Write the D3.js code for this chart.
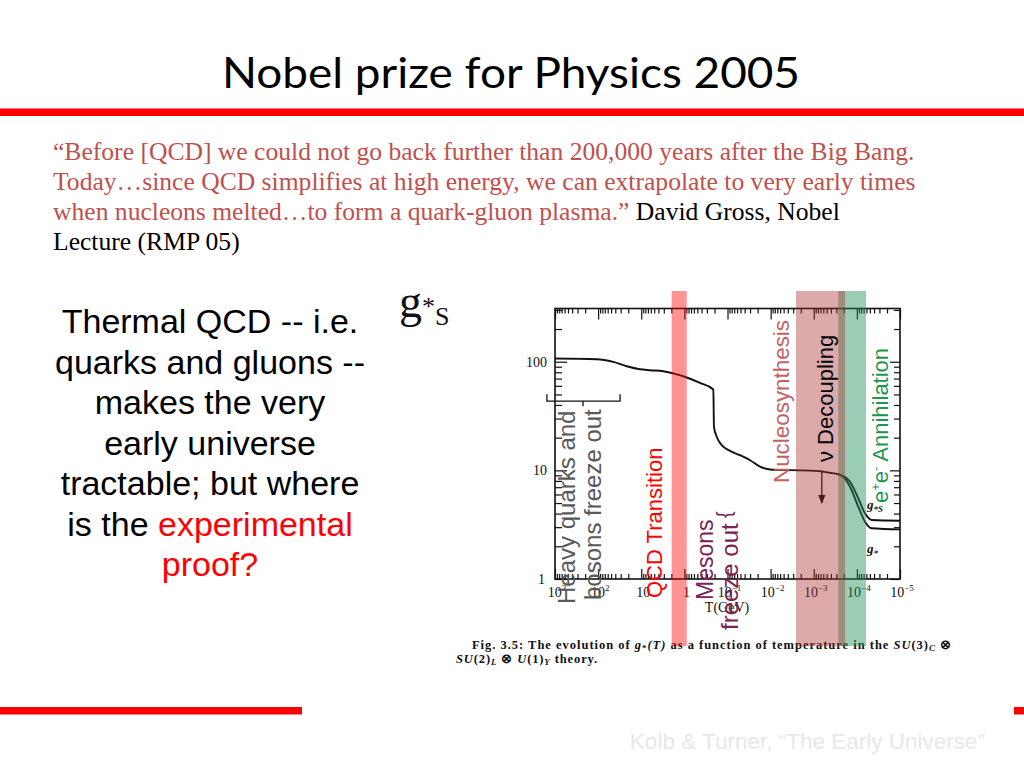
<!DOCTYPE html>
<html>
<head>
<meta charset="utf-8">
<script src="https://cdn.jsdelivr.net/npm/d3@7"></script>
<style>
  body { margin: 0; background: #fff; }
  svg { display: block; }
  .serif { font-family: "Liberation Serif", "Times New Roman", serif; }
  .sans { font-family: "Liberation Sans", Arial, sans-serif; }
</style>
</head>
<body>
<div class="container"></div>
<script>
var tempGeV = [1000, 108, 44.5, 21.7, 10.7, 6.27, 3.08, 1.81, 0.88, 0.435, 0.213, 0.206, 0.178,
               0.136, 0.0875, 0.0513, 0.030, 0.0176, 0.0103, 0.00356, 0.000855, 0.00042, 0.000274,
               0.000188, 0.000144, 0.0000927, 0.0000649, 0.0000453, 0.00001];
var gStarS  = [107, 105.5, 99.6, 90.9, 85.3, 83.6, 81.8, 78, 71.6, 63.8, 55.5, 25.1, 20.4,
               17.1, 15.1, 13.8, 12.4, 10.8, 10.2, 10.05, 9.9, 9.5, 9.24,
               8.67, 7.85, 5.52, 4.02, 3.49, 3.44];
// g* splits away from g*s below ~0.3 MeV
var tempLow = [0.000274, 0.000188, 0.000144, 0.0000927, 0.0000649, 0.0000453, 0.00001];
var gStar   = [9.24, 8.4, 7.06, 4.62, 3.37, 2.93, 2.86];

// shaded temperature bands (GeV)
var bandNames = ["QCD", "Nucleosynthesis", "Annihilation"];
var bandHighT = [1.97, 0.00258, 0.00027];
var bandLowT  = [0.88, 0.000188, 0.0000614];

var xTickExp = [3, 2, 1, 0, -1, -2, -3, -4, -5];
var yTickVals = [1, 10, 100];

var quoteLines = [
  "\u201CBefore [QCD] we could not go back further than 200,000 years after the Big Bang.",
  "Today\u2026since QCD simplifies at high energy, we can extrapolate to very early times",
  "when nucleons melted\u2026to form a quark-gluon plasma.\u201D"
];
var leftLines = ["Thermal QCD -- i.e.", "quarks and gluons --", "makes the very",
                 "early universe", "tractable; but where", "is the ", "proof?"];

var svg = d3.select(".container").append("svg")
    .attr("width", 1024)
    .attr("height", 768);

// slide furniture
svg.append("rect").attr("x", 0).attr("y", 108.5).attr("width", 1024).attr("height", 7.5).attr("fill", "#ff0000");
svg.append("rect").attr("x", 0).attr("y", 707).attr("width", 302).attr("height", 7.5).attr("fill", "#ff0000");
svg.append("rect").attr("x", 1014).attr("y", 707).attr("width", 10).attr("height", 7.5).attr("fill", "#ff0000");

svg.append("text")
    .attr("x", 511).attr("y", 88)
    .attr("text-anchor", "middle")
    .attr("textLength", 578).attr("lengthAdjust", "spacingAndGlyphs")
    .style("font-family", "Lato, 'Open Sans', sans-serif")
    .style("font-size", "42px")
    .text("Nobel prize for Physics 2005");

var quote = svg.append("g").attr("class", "serif").style("font-size", "25.6px");
quoteLines.forEach(function (line, i) {
    quote.append("text").attr("x", 53).attr("y", 160 + i * 30).attr("fill", "#c0504d").text(line);
});
quote.select("text:nth-child(3)").append("tspan").attr("fill", "#000").text("  David Gross, Nobel");
quote.append("text").attr("x", 53).attr("y", 250).attr("fill", "#000").text("Lecture (RMP 05)");

var left = svg.append("g").attr("class", "sans").style("font-size", "34px");
leftLines.forEach(function (line, i) {
    var t = left.append("text").attr("x", 210).attr("y", 333 + i * 40.5)
        .attr("text-anchor", "middle")
        .attr("fill", i == 6 ? "#ff0000" : "#000")
        .text(line);
    if (i == 5) t.append("tspan").attr("fill", "#ff0000").text("experimental");
});

svg.append("text").attr("class", "sans")
    .attr("x", 985).attr("y", 749).attr("text-anchor", "end")
    .style("font-size", "22.5px").attr("fill", "#e8e8e8")
    .text("Kolb & Turner, \u201CThe Early Universe\u201D");

// big g*S label
var gs = svg.append("text").attr("class", "serif").attr("x", 399).attr("y", 317).attr("fill", "#111");
gs.append("tspan").style("font-size", "46px").text("g");
gs.append("tspan").style("font-size", "26px").attr("dy", -2).text("*");
gs.append("tspan").style("font-size", "26px").attr("dy", 10).text("S");

// ---- the figure ----
var x = d3.scaleLog().domain([1e3, 1e-5]).range([555, 900]);
var y = d3.scaleLog().domain([1, Math.pow(10, 2.49)]).range([579, 308.5]);

function isDecade(v) {
    var l = Math.log10(v);
    return Math.abs(l - Math.round(l)) < 1e-6;
}
var xTicks = x.ticks(), yTicks = y.ticks();
var xMajor = xTicks.filter(isDecade), xMinor = xTicks.filter(function (v) { return !isDecade(v); });
var yMajor = yTicks.filter(isDecade), yMinor = yTicks.filter(function (v) { return !isDecade(v); });

var fig = svg.append("g");

function tickAxis(axis, pos, vals, size) {
    fig.append("g")
        .attr("transform", pos)
        .call(axis.tickValues(vals).tickSize(size).tickSizeOuter(0).tickFormat(""))
        .call(function (g) { g.select(".domain").remove(); })
        .selectAll("line").attr("stroke", "#111").attr("stroke-width", 1.2);
}
tickAxis(d3.axisBottom(x), "translate(0,579)", xMinor, -5);
tickAxis(d3.axisBottom(x), "translate(0,579)", xMajor, -10);
tickAxis(d3.axisTop(x), "translate(0,308.5)", xMinor, -5);
tickAxis(d3.axisTop(x), "translate(0,308.5)", xMajor, -11);
tickAxis(d3.axisLeft(y), "translate(555,0)", yMinor, -7);
tickAxis(d3.axisLeft(y), "translate(555,0)", yMajor, -12);
tickAxis(d3.axisRight(y), "translate(900,0)", yMinor, -6);
tickAxis(d3.axisRight(y), "translate(900,0)", yMajor, -10);

fig.append("rect")
    .attr("x", x(1e3)).attr("y", y.range()[1])
    .attr("width", x(1e-5) - x(1e3)).attr("height", y.range()[0] - y.range()[1])
    .attr("fill", "none").attr("stroke", "#111").attr("stroke-width", 1.6);

// tick labels
var xLab = fig.append("g").attr("class", "serif").style("font-size", "14px").attr("fill", "#111");
xTickExp.forEach(function (e) {
    var t = xLab.append("text").attr("x", x(Math.pow(10, e)) + 2).attr("y", 597).attr("text-anchor", "middle");
    if (e == 0) { t.text("1"); return; }
    t.append("tspan").text("10");
    if (e != 1) t.append("tspan").attr("dy", -6).style("font-size", "9px").text(String(e).replace("-", "\u2212"));
});
xLab.append("text").attr("x", 727).attr("y", 612).attr("text-anchor", "middle").text("T(GeV)");

fig.append("g").attr("class", "serif").style("font-size", "14px").attr("fill", "#111")
    .selectAll("text").data(yTickVals).enter().append("text")
    .attr("x", function (d) { return d == 1 ? 545 : 547; })
    .attr("y", function (d) { return y(d); })
    .attr("dy", "0.35em")
    .attr("text-anchor", "end")
    .text(function (d) { return d; });

// curves
var line = d3.line()
    .x(function (d) { return x(d[0]); })
    .y(function (d) { return y(d[1]); })
    .curve(d3.curveMonotoneX);

fig.append("path")
    .attr("d", line(d3.zip(tempGeV, gStarS)))
    .attr("fill", "none").attr("stroke", "#111").attr("stroke-width", 1.9);
fig.append("path")
    .attr("d", line(d3.zip(tempLow, gStar)))
    .attr("fill", "none").attr("stroke", "#111").attr("stroke-width", 1.9);

// curve labels
var lab = fig.append("g").attr("class", "serif").style("font-size", "13px")
    .style("font-weight", "bold").style("font-style", "italic").attr("fill", "#111");
var l1 = lab.append("text").attr("x", x(5.8e-5)).attr("y", y(4.4));
l1.append("tspan").text("g");
l1.append("tspan").attr("dy", 3).style("font-size", "9px").text("*S");
var l2 = lab.append("text").attr("x", x(5.8e-5)).attr("y", y(1.73));
l2.append("tspan").text("g");
l2.append("tspan").attr("dy", 3).style("font-size", "9px").text("*");

// heavy-quark bracket
var by = y(43.3);
fig.append("path")
    .attr("d", "M" + x(1540) + "," + (by - 7) + "V" + by + "H" + x(31) + "V" + (by - 7) +
               "M" + x(224) + "," + by + "v5")
    .attr("fill", "none").attr("stroke", "#111").attr("stroke-width", 1.3);

// neutrino decoupling arrow
svg.append("defs").append("marker")
    .attr("id", "head").attr("viewBox", "0 0 10 10").attr("refX", 9).attr("refY", 5)
    .attr("markerWidth", 7).attr("markerHeight", 9).attr("orient", "auto")
    .append("path").attr("d", "M0,1L10,5L0,9Z").attr("fill", "#111");
fig.append("line")
    .attr("x1", x(6.5e-4)).attr("x2", x(6.5e-4))
    .attr("y1", y(10)).attr("y2", y(5))
    .attr("stroke", "#111").attr("stroke-width", 1.3)
    .attr("marker-end", "url(#head)");

// caption
var cap = fig.append("g").attr("class", "serif").style("font-size", "12.5px")
    .style("font-weight", "bold").attr("fill", "#111");
var c1 = cap.append("text").attr("x", 472).attr("y", 649);
c1.append("tspan").text("Fig. 3.5:  The evolution of ");
c1.append("tspan").style("font-style", "italic").text("g");
c1.append("tspan").attr("dy", 2).style("font-size", "9px").text("*");
c1.append("tspan").attr("dy", -2).style("font-style", "italic").text("(T)");
c1.append("tspan").text(" as a function of temperature in the ");
c1.append("tspan").style("font-style", "italic").text("SU");
c1.append("tspan").text("(3)");
c1.append("tspan").attr("dy", 2).style("font-size", "9px").style("font-style", "italic").text("C");
c1.append("tspan").attr("dy", -2).text(" \u2297");
var c2 = cap.append("text").attr("x", 456).attr("y", 663);
c2.append("tspan").style("font-style", "italic").text("SU");
c2.append("tspan").text("(2)");
c2.append("tspan").attr("dy", 2).style("font-size", "9px").style("font-style", "italic").text("L");
c2.append("tspan").attr("dy", -2).text(" \u2297 ");
c2.append("tspan").style("font-style", "italic").text("U");
c2.append("tspan").text("(1)");
c2.append("tspan").attr("dy", 2).style("font-size", "9px").style("font-style", "italic").text("Y");
c2.append("tspan").attr("dy", -2).text(" theory.");

function fitWidth(t, target) {
    var len = t.node().getComputedTextLength();
    var n = t.text().length;
    t.attr("letter-spacing", ((target - len) / n).toFixed(3));
}
fitWidth(c1, 481);
fitWidth(c2, 142);

// bands, drawn over the figure
var bandFill = ["#ff0000", "#a72a2a", "#219059"];
var bandOpacity = [0.42, 0.4, 0.45];
var bandOrder = [0, 2, 1];
svg.append("g").selectAll("rect").data(bandOrder).enter().append("rect")
    .attr("x", function (i) { return x(bandHighT[i]); })
    .attr("width", function (i) { return x(bandLowT[i]) - x(bandHighT[i]); })
    .attr("y", 291).attr("height", 355)
    .attr("fill", function (i) { return bandFill[i]; })
    .attr("fill-opacity", function (i) { return bandOpacity[i]; })
    .attr("class", function (i) { return "band " + bandNames[i]; });

// rotated annotations
var ann = svg.append("g").attr("class", "sans");
function vtext(px, py, size, color) {
    return ann.append("text")
        .attr("transform", "translate(" + px + "," + py + ") rotate(-90)")
        .style("font-size", size + "px")
        .attr("fill", color);
}
vtext(575, 604, 24, "#595959").text("Heavy quarks and");
vtext(601, 600, 24, "#595959").text("bosons freeze out");
vtext(662, 598, 22, "#ff0000").text("QCD Transition");
vtext(713, 600, 23, "#7b2355").text("Mesons");
vtext(731, 518, 20, "#7b2355").text("{");
vtext(738, 630, 24, "#7b2355").text("freeze out");
vtext(789, 483, 22.4, "#c46262").text("Nucleosynthesis");
vtext(833, 462, 22, "#000").text("\u03BD Decoupling");
var ee = vtext(888, 503, 22, "#1e9650");
ee.append("tspan").text("e");
ee.append("tspan").attr("dy", -8).style("font-size", "13px").text("+");
ee.append("tspan").attr("dy", 8).text("e");
ee.append("tspan").attr("dy", -8).style("font-size", "13px").text("-");
ee.append("tspan").attr("dy", 8).text(" Annihilation");
</script>
</body>
</html>
